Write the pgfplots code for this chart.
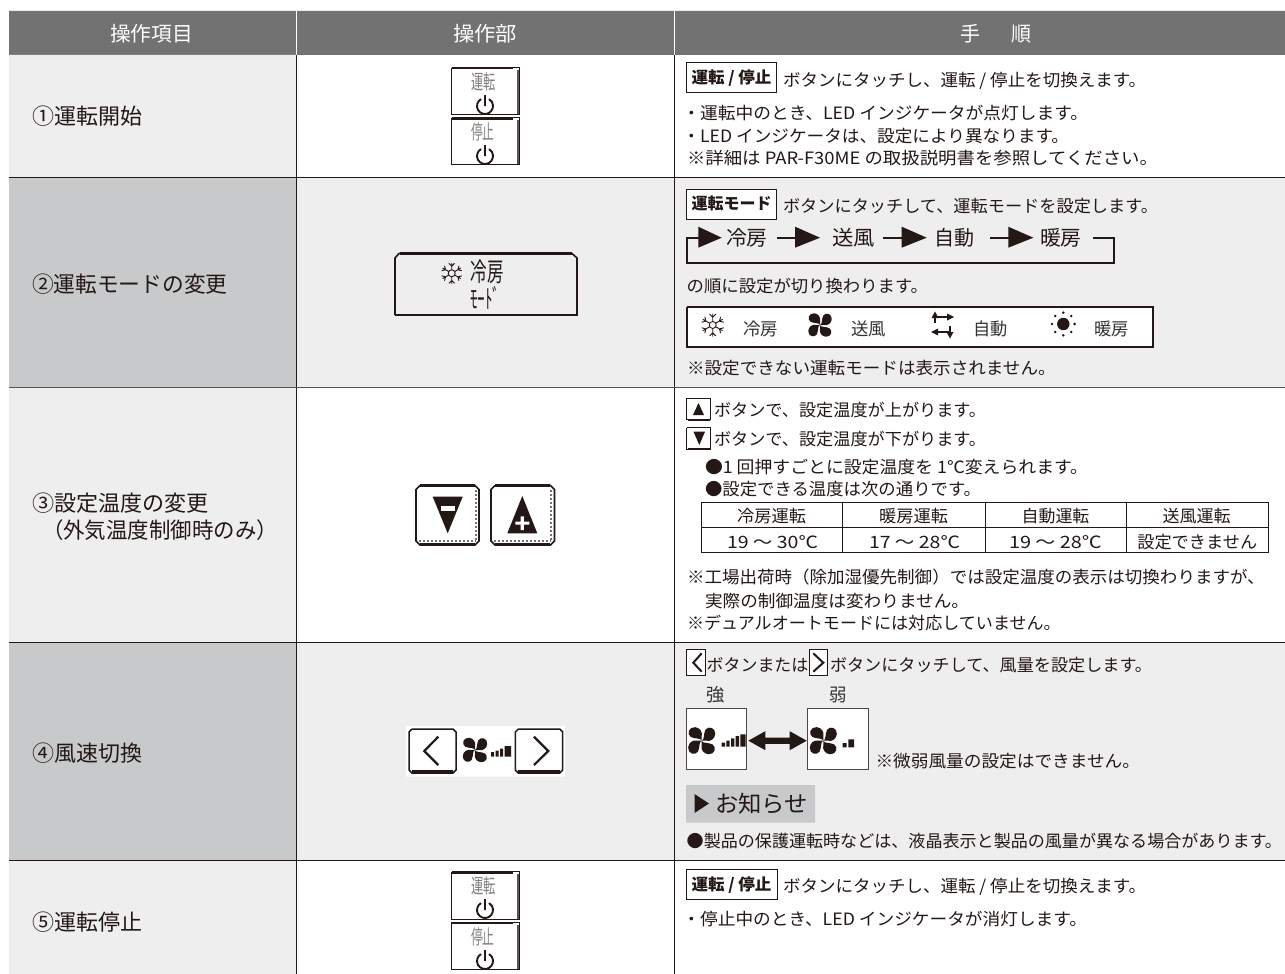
\documentclass[border=0pt]{standalone}
\usepackage{fontspec}
\usepackage{graphicx}
\usepackage{pgfplots}
\pgfplotsset{compat=1.18}
\setmainfont{Noto Sans CJK JP}
\definecolor{ink}{HTML}{231815}
\definecolor{hdr}{HTML}{727272}
\definecolor{pale}{HTML}{EEEEEE}
\definecolor{mid}{HTML}{C8C9CB}
% text: [colour]{x1}{x2}{y centre}{size}{text}
\newcommand{\T}[6][ink]{\node[anchor=west,inner sep=0pt,outer sep=0pt,text=#1,text height={#5*0.88pt},text depth={#5*0.12pt}] at (axis cs:#2,#4) {\pgfmathsetmacro\tw{#3-#2}\resizebox{\tw pt}{\height}{\fontsize{#5pt}{#5pt}\selectfont #6}};}
\newcommand{\Tb}[6][ink]{\node[anchor=west,inner sep=0pt,outer sep=0pt,text=#1,text height={#5*0.88pt},text depth={#5*0.12pt}] at (axis cs:#2,#4) {\pgfmathsetmacro\tw{#3-#2}\resizebox{\tw pt}{\height}{\fontsize{#5pt}{#5pt}\selectfont\bfseries #6}};}
\newcommand{\rect}[5]{\addplot[#1,forget plot] coordinates {(#2,#3)(#4,#3)(#4,#5)(#2,#5)(#2,#3)};}
\newcommand{\poly}[2]{\addplot[#1,forget plot] coordinates {#2};}
% fan
\newcommand{\blade}[4]{\fill[ink,shift={(axis cs:#1,#2)},scale=#3,rotate=#4] (0pt,0pt) .. controls (-.05pt,.22pt) and (-.5pt,.12pt) .. (-.82pt,.28pt) .. controls (-1.15pt,.5pt) and (-.98pt,1.05pt) .. (-.5pt,1.02pt) .. controls (-.12pt,.98pt) and (.08pt,.65pt) .. (0pt,.35pt) -- (0pt,0pt);}
\newcommand{\fan}[3]{\blade{#1}{#2}{#3}{0}\blade{#1}{#2}{#3}{90}\blade{#1}{#2}{#3}{180}\blade{#1}{#2}{#3}{270}}
% snow
\newcommand{\spoke}[4]{\draw[ink,line width=.9pt,shift={(axis cs:#1,#2)},scale=#3,rotate=#4] (0pt,.3pt)--(0pt,1pt) (-.27pt,.95pt)--(0pt,.68pt)--(.27pt,.95pt);}
\newcommand{\snow}[3]{\spoke{#1}{#2}{#3}{0}\spoke{#1}{#2}{#3}{60}\spoke{#1}{#2}{#3}{120}\spoke{#1}{#2}{#3}{180}\spoke{#1}{#2}{#3}{240}\spoke{#1}{#2}{#3}{300}\draw[ink,line width=.9pt] (axis cs:#1,#2) circle[radius=3.5pt];}
% power
\newcommand{\pow}[2]{\draw[ink,line width=1.9pt,shift={(axis cs:#1,#2)}] (120:8pt) arc[start angle=120,end angle=420,radius=8pt] (0pt,0pt)--(0pt,11pt);}
\begin{document}
\begin{tikzpicture}
\begin{axis}[scale only axis,width=1285pt,height=974pt,xmin=0,xmax=1285,ymin=0,ymax=974,y dir=reverse,axis lines=none,clip=true]
% ---------- page
\rect{fill=white,draw=white,line width=.1pt}{0}{0}{1285}{974}
% ---------- cell backgrounds
\rect{fill=hdr,draw=none}{9}{11}{1285}{55}
\rect{fill=pale,draw=none}{9}{55}{296}{177}
\rect{fill=mid,draw=none}{9}{177}{296}{387}
\rect{fill=pale,draw=none}{9}{387}{296}{642}
\rect{fill=mid,draw=none}{9}{642}{296}{860}
\rect{fill=pale,draw=none}{9}{860}{296}{974}
\rect{fill=pale,draw=none}{296}{177}{1285}{387}
\rect{fill=pale,draw=none}{296}{642}{1285}{860}
% ---------- rules
\poly{draw=white,line width=1pt}{(296,11)(296,55)}
\poly{draw=white,line width=1pt}{(674.5,11)(674.5,55)}
\poly{draw=ink,line width=.9pt}{(296,55.5)(296,974)}
\poly{draw=ink,line width=.9pt}{(674.5,55.5)(674.5,974)}
\poly{draw=ink,line width=.8pt}{(9,177.3)(1285,177.3)}
\poly{draw=ink!75,line width=.8pt}{(9,387.5)(1285,387.5)}
\poly{draw=ink,line width=.8pt}{(9,642.3)(1285,642.3)}
\poly{draw=ink,line width=.8pt}{(9,860)(1285,860)}
% ---------- header
\T[white]{110}{193}{33.5}{20.5}{操作項目}
\T[white]{453}{517}{33.5}{20.5}{操作部}
\T[white]{960}{980}{33.5}{20.5}{手}
\T[white]{1011}{1031}{33.5}{20.5}{順}
% ---------- first column
\T{32}{142}{116.5}{22}{①運転開始}
\T{32}{227.5}{284}{22}{②運転モードの変更}
\T{32}{208.5}{502.7}{22}{③設定温度の変更}
\T{42}{278}{530}{22}{（外気温度制御時のみ）}
\T{32}{142}{753}{22}{④風速切換}
\T{32}{142}{921.7}{22}{⑤運転停止}
% ---------- row 1
\rect{draw=ink,line width=.8pt,fill=white}{686}{62.3}{776.7}{92.3}
\Tb{691.5}{771.5}{77.5}{16}{運転 / 停止}
\T{783}{1146}{80}{17}{ボタンにタッチし、運転 / 停止を切換えます。}
\T{682.5}{1088}{112.7}{17}{・運転中のとき、LED インジケータが点灯します。}
\T{682.5}{1069}{136}{17}{・LED インジケータは、設定により異なります。}
\T{687}{1158}{157.7}{17}{※詳細は PAR-F30ME の取扱説明書を参照してください。}
% on / off buttons
\rect{draw=ink,line width=.9pt,fill=white}{451.7}{67.7}{519.3}{114.3}
\poly{draw=ink,line width=2pt}{(452,68.5)(513,68.5)}
\poly{draw=ink!75,line width=2.4pt}{(518,70)(518,114)}
\T[black!50]{471.5}{496}{82}{20}{運転}
\pow{485}{106}
\rect{draw=ink,line width=.9pt,fill=white}{451.7}{117.7}{519.3}{164.3}
\poly{draw=ink,line width=2pt}{(452,118.5)(513,118.5)}
\poly{draw=ink!75,line width=2.4pt}{(518,120)(518,164)}
\T[black!50]{471}{494.5}{132}{20}{停止}
\pow{485}{156}
% ---------- row 2
\rect{draw=ink,line width=.8pt,fill=white}{686}{189}{776.7}{219}
\Tb{691.5}{771.5}{203.5}{16}{運転モード}
\T{783}{1158}{206}{17}{ボタンにタッチして、運転モードを設定します。}
\poly{draw=ink,line width=1.7pt}{(1093.3,237.7)(1114.3,237.7)(1114.3,263.3)(686.7,263.3)(686.7,237.7)(700,237.7)}
\poly{fill=ink,draw=none}{(698.3,226.7)(721.7,237.7)(698.3,247.7)}
\poly{draw=ink,line width=1.7pt}{(776.7,237.7)(797,237.7)}
\poly{fill=ink,draw=none}{(795,226.7)(820,237.7)(795,247.7)}
\poly{draw=ink,line width=1.7pt}{(883.3,237.7)(903,237.7)}
\poly{fill=ink,draw=none}{(901.7,226.7)(926.7,237.7)(901.7,247.7)}
\poly{draw=ink,line width=1.7pt}{(990,237.7)(1010,237.7)}
\poly{fill=ink,draw=none}{(1008.3,226.7)(1033.3,237.7)(1008.3,247.7)}
\T{726}{767.7}{237.7}{20.5}{冷房}
\T{832.3}{875}{237.7}{20.5}{送風}
\T{934.3}{974.3}{237.7}{20.5}{自動}
\T{1040}{1081.7}{237.7}{20.5}{暖房}
\T{686.7}{928}{286}{17}{の順に設定が切り換わります。}
\rect{draw=ink,line width=2.3pt,fill=white}{686.7}{306.7}{1153.3}{346.7}
\snow{712.7}{325}{11.5}
\T[black!80]{743.3}{778.3}{329.3}{17.5}{冷房}
\fan{820}{325}{11.5}
\T[black!80]{851}{885.7}{329.3}{17.5}{送風}
% auto icon
\poly{draw=ink,line width=1.1pt}{(934,317)(948,317)}
\poly{fill=ink,draw=none}{(947,313.5)(954,317)(947,320.5)}
\poly{draw=ink,line width=1.1pt}{(935,317)(935,323)}
\poly{fill=ink,draw=none}{(931.5,318)(935,311.5)(938.5,318)}
\poly{draw=ink,line width=1.1pt}{(937,332)(950,332)}
\poly{fill=ink,draw=none}{(938,328.5)(931,332)(938,335.5)}
\poly{draw=ink,line width=1.1pt}{(950,326)(950,333)}
\poly{fill=ink,draw=none}{(946.5,332)(950,338.5)(953.5,332)}
% sun icon
\fill[ink] (axis cs:1063.3,324) circle[radius=6.2pt];
\fill[ink] (axis cs:1063.3,312.7) circle[radius=1.4pt];
\fill[ink] (axis cs:1063.3,335.3) circle[radius=1.4pt];
\fill[ink] (axis cs:1052,324) circle[radius=1.4pt];
\fill[ink] (axis cs:1074.6,324) circle[radius=1.4pt];
\fill[ink] (axis cs:1055.3,316) circle[radius=1.4pt];
\fill[ink] (axis cs:1071.3,316) circle[radius=1.4pt];
\fill[ink] (axis cs:1055.3,332) circle[radius=1.4pt];
\fill[ink] (axis cs:1071.3,332) circle[radius=1.4pt];
\T[black!80]{973.3}{1007.7}{329.3}{17.5}{自動}
\T[black!80]{1094.3}{1129}{329.3}{17.5}{暖房}
\T{687}{1055.7}{368.3}{17}{※設定できない運転モードは表示されません。}
% LCD mode
\poly{draw=ink,line width=1.6pt}{(395,315)(395,258)(399,253.5)(572,253.5)(577,258)(577,315)(395,315)}
\poly{draw=ink,line width=2.5pt}{(400,253.5)(572,253.5)}
\poly{draw=ink,line width=2pt}{(395,314.5)(577,314.5)}
\snow{451.7}{273.3}{10.5}
\T{470.5}{503.5}{271.5}{26}{冷房}
\T{470}{500}{298.5}{26}{ﾓｰﾄﾞ}
% ---------- row 3
\rect{draw=ink,line width=1pt,fill=white}{686.7}{398.3}{710.7}{419.5}
\poly{draw=ink,line width=2pt}{(687.5,419.5)(710,419.5)}
\poly{fill=ink,draw=none}{(698.5,403)(693,415)(704,415)}
\T{714}{986}{410.5}{17}{ボタンで、設定温度が上がります。}
\rect{draw=ink,line width=1pt,fill=white}{686.7}{427.7}{710.7}{449.3}
\poly{draw=ink,line width=2pt}{(687.5,449.3)(710,449.3)}
\poly{fill=ink,draw=none}{(693.5,431.7)(705,431.7)(699.3,445)}
\T{714}{986}{439}{17}{ボタンで、設定温度が下がります。}
\T{705}{1088}{466.7}{17}{●1 回押すごとに設定温度を 1℃変えられます。}
\T{705}{981}{489}{17}{●設定できる温度は次の通りです。}
\rect{draw=ink,line width=.8pt,fill=white}{701}{502.7}{1268.3}{552.3}
\poly{draw=ink,line width=.8pt}{(701,527.7)(1268.3,527.7)}
\poly{draw=ink,line width=.8pt}{(842,502.7)(842,552.3)}
\poly{draw=ink,line width=.8pt}{(985,502.7)(985,552.3)}
\poly{draw=ink,line width=.8pt}{(1126.7,502.7)(1126.7,552.3)}
\T{737}{806}{516}{17}{冷房運転}
\T{879}{948}{516}{17}{暖房運転}
\T{1021.7}{1089.3}{516}{17}{自動運転}
\T{1162.7}{1230.7}{516}{17}{送風運転}
\T{727}{818}{541.7}{17}{19 ～ 30℃}
\T{869}{960}{541.7}{17}{17 ～ 28℃}
\T{1009}{1101.7}{541.7}{17}{19 ～ 28℃}
\T{1137.3}{1257.3}{541.7}{17}{設定できません}
\T{687}{1264.7}{577.3}{17}{※工場出荷時（除加湿優先制御）では設定温度の表示は切換わりますが、}
\T{705}{969}{601}{17}{実際の制御温度は変わりません。}
\T{687}{1060.7}{623.3}{17}{※デュアルオートモードには対応していません。}
% up / down buttons
\poly{draw=ink,line width=1.6pt,fill=white}{(420,485.5)(475,485.5)(479,489.5)(479,541)(475,545)(420,545)(416,541)(416,489.5)(420,485.5)}
\poly{draw=ink,line width=3pt}{(420,485.5)(475,485.5)}
\poly{draw=ink,line width=3pt}{(420,544.5)(475,544.5)}
\poly{draw=black!55,line width=2pt,dotted}{(419,540.5)(476,540.5)}
\poly{draw=black!55,line width=2pt,dotted}{(476,490)(476,540)}
\poly{fill=ink,draw=none}{(432.7,496.7)(462.7,496.7)(447.7,533.3)}
\poly{fill=white,draw=none}{(440.7,506)(455,506)(455,510.7)(440.7,510.7)}
\poly{draw=ink,line width=1.6pt,fill=white}{(495,485.5)(550.5,485.5)(554.5,489.5)(554.5,541)(550.5,545)(495,545)(491,541)(491,489.5)(495,485.5)}
\poly{draw=ink,line width=3pt}{(495,485.5)(550,485.5)}
\poly{draw=ink,line width=3pt}{(495,544.5)(550,544.5)}
\poly{draw=black!55,line width=2pt,dotted}{(494,540.5)(551,540.5)}
\poly{draw=black!55,line width=2pt,dotted}{(551,490)(551,540)}
\poly{fill=ink,draw=none}{(507.3,533.3)(537.3,533.3)(522.3,496)}
\poly{fill=white,draw=none}{(515.3,521.5)(520.7,521.5)(520.7,516.3)(523.9,516.3)(523.9,521.5)(529.3,521.5)(529.3,524.7)(523.9,524.7)(523.9,530)(520.7,530)(520.7,524.7)(515.3,524.7)}
% ---------- row 4
\rect{draw=ink,line width=1pt,fill=white}{686.7}{649.3}{705}{675}
\poly{draw=ink,line width=2pt}{(701.7,653.3)(693.3,662.7)(701.7,671.7)}
\T{706.7}{808.3}{665}{17}{ボタンまたは}
\rect{draw=ink,line width=1pt,fill=white}{809.3}{649.3}{827.7}{675}
\poly{draw=ink,line width=2pt}{(813.3,653.3)(823.3,662.7)(813.3,671.7)}
\T{830}{1152}{665}{17}{ボタンにタッチして、風量を設定します。}
\T[black!80]{706.7}{725}{695}{18}{強}
\T[black!80]{829}{846.5}{695}{18}{弱}
\rect{draw=ink!80,line width=.8pt,fill=white}{686}{708.3}{746.7}{769}
\fan{701.7}{740.7}{13.3}
\rect{fill=ink,draw=none}{721.7}{742.5}{725}{746.7}
\rect{fill=ink,draw=none}{726.3}{740.5}{729.6}{746.7}
\rect{fill=ink,draw=none}{731}{738.3}{734.3}{746.7}
\rect{fill=ink,draw=none}{735.7}{736.2}{739}{746.7}
\rect{fill=ink,draw=none}{740.4}{734.3}{745.7}{746.7}
\poly{fill=ink,draw=none}{(748.3,740.7)(765.3,731.2)(765.3,737.5)(789.7,737.5)(789.7,731.2)(806.7,740.7)(789.7,750.2)(789.7,743.9)(765.3,743.9)(765.3,750.2)}
\rect{draw=ink!80,line width=.8pt,fill=white}{807.7}{708.3}{868.3}{769}
\fan{823.3}{740.7}{13.3}
\rect{fill=ink,draw=none}{842.7}{743}{846.5}{747.3}
\rect{fill=ink,draw=none}{848.3}{739.3}{854}{747.3}
\T{875.5}{1140}{760.7}{17}{※微弱風量の設定はできません。}
\rect{fill=mid,draw=none}{686}{785}{815}{822.7}
\poly{fill=ink,draw=none}{(694.5,794)(709,803.5)(694.5,813)}
\T{715}{808}{803.3}{23}{お知らせ}
\T{686.7}{1282}{841}{17}{●製品の保護運転時などは、液晶表示と製品の風量が異なる場合があります。}
% wind button
\rect{fill=white,draw=none}{406}{726}{565}{776.7}
\poly{draw=ink,line width=1.5pt}{(412,729)(453,729)(456,732)(456,770)(453,773)(412,773)(409,770)(409,732)(412,729)}
\poly{draw=ink,line width=3pt}{(412,771.5)(453,771.5)}
\poly{draw=ink,line width=2.2pt}{(438.3,736.7)(424.3,751)(438.3,765)}
\poly{draw=ink,line width=1.5pt}{(518.3,729)(559.7,729)(562.7,732)(562.7,770)(559.7,773)(518.3,773)(515.3,770)(515.3,732)(518.3,729)}
\poly{draw=ink,line width=3pt}{(518,771.5)(560,771.5)}
\poly{draw=ink,line width=2.2pt}{(534,736.7)(548.3,751)(534,765)}
\fan{475}{750}{12}
\rect{fill=ink,draw=none}{491}{752}{494}{756.7}
\rect{fill=ink,draw=none}{495.5}{750.5}{498.5}{756.7}
\rect{fill=ink,draw=none}{500}{748.5}{503}{756.7}
\rect{fill=ink,draw=none}{504.5}{746}{511}{756.7}
% ---------- row 5
\rect{draw=ink,line width=.8pt,fill=white}{686}{869.3}{777}{899.3}
\Tb{691.5}{771.5}{884.3}{16}{運転 / 停止}
\T{783}{1146}{885.7}{17}{ボタンにタッチし、運転 / 停止を切換えます。}
\T{682.5}{1087}{919}{17}{・停止中のとき、LED インジケータが消灯します。}
\rect{draw=ink,line width=.9pt,fill=white}{451.7}{871.7}{519.3}{919}
\poly{draw=ink,line width=2pt}{(452,872.5)(513,872.5)}
\poly{draw=ink!75,line width=2.4pt}{(518,874)(518,919)}
\T[black!50]{471.5}{496}{886}{20}{運転}
\pow{485}{910}
\rect{draw=ink,line width=.9pt,fill=white}{451.7}{922.3}{519.3}{969.3}
\poly{draw=ink,line width=2pt}{(452,923)(513,923)}
\poly{draw=ink!75,line width=2.4pt}{(518,925)(518,969)}
\T[black!50]{471}{494.5}{936.5}{20}{停止}
\pow{485}{961}
\end{axis}
\end{tikzpicture}
\end{document}
